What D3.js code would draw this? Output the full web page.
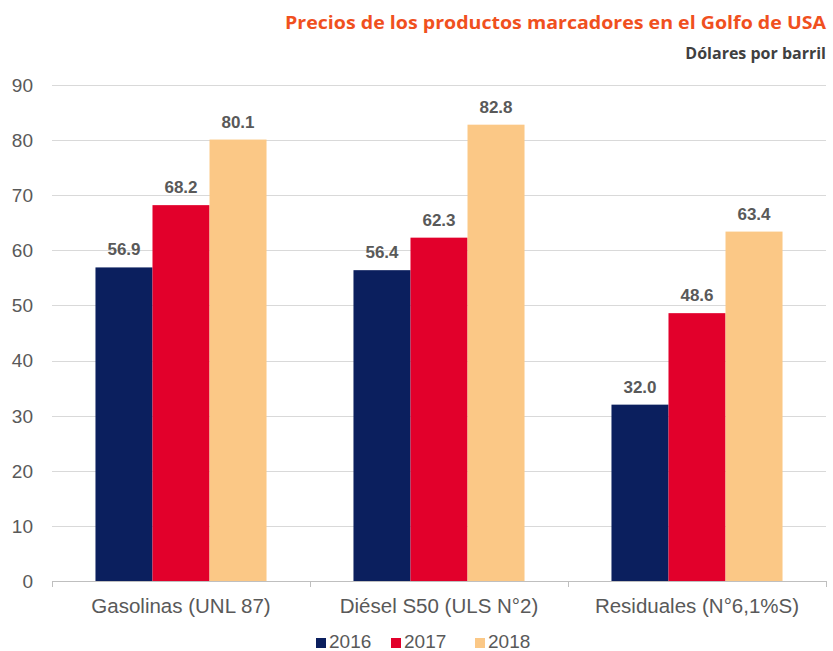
<!DOCTYPE html>
<html>
<head>
<meta charset="utf-8">
<script src="https://cdn.jsdelivr.net/npm/d3@7"></script>
<style>
  body { margin: 0; background: #fff; }
  svg text { font-family: "Liberation Sans", Arial, sans-serif; }
</style>
</head>
<body>
<div id="chart"></div>
<script>
// data
var categories = ['Gasolinas (UNL 87)', 'Diésel S50 (ULS N°2)', 'Residuales (N°6,1%S)'];
var years = ['2016', '2017', '2018'];
var values2016 = [56.9, 56.4, 32.0];
var values2017 = [68.2, 62.3, 48.6];
var values2018 = [80.1, 82.8, 63.4];
var yTicks = [0, 10, 20, 30, 40, 50, 60, 70, 80, 90];

var series = [values2016, values2017, values2018];
var colors = ['#0b1f5e', '#e2002b', '#fbc886'];

var width = 833, height = 651;
var margin = { top: 85, right: 7, bottom: 70, left: 52 };
var innerW = width - margin.left - margin.right,
  innerH = height - margin.top - margin.bottom;

var svg = d3.select('#chart').append('svg')
  .attr('width', width)
  .attr('height', height);

// titles
svg.append('text')
  .attr('x', 826).attr('y', 29)
  .attr('text-anchor', 'end')
  .style('font-family', '"Open Sans", sans-serif')
  .style('font-weight', 'bold')
  .style('font-size', '18px')
  .attr('fill', '#f0501e')
  .attr('textLength', 541)
  .attr('lengthAdjust', 'spacingAndGlyphs')
  .text('Precios de los productos marcadores en el Golfo de USA');

svg.append('text')
  .attr('x', 826).attr('y', 59)
  .attr('text-anchor', 'end')
  .style('font-family', '"Open Sans", sans-serif')
  .style('font-weight', 'bold')
  .style('font-size', '16px')
  .attr('fill', '#404040')
  .text('Dólares por barril');

var g = svg.append('g')
  .attr('transform', 'translate(' + margin.left + ',' + margin.top + ')');

var x0 = d3.scaleBand()
  .domain(categories)
  .range([0, innerW])
  .paddingInner(0.337)
  .paddingOuter(0.337 / 2);

var x1 = d3.scaleBand()
  .domain(years)
  .range([0, x0.bandwidth()]);

var y = d3.scaleLinear()
  .domain([0, 90])
  .range([innerH, 0]);

// gridlines
g.selectAll('.grid')
  .data(yTicks.slice(1))
  .enter().append('line')
  .attr('x1', 0).attr('x2', innerW)
  .attr('y1', function(d) { return Math.round(y(d)) + 0.5; })
  .attr('y2', function(d) { return Math.round(y(d)) + 0.5; })
  .attr('stroke', '#d9d9d9')
  .attr('stroke-width', 1);

// y tick labels
g.selectAll('.ylab')
  .data(yTicks)
  .enter().append('text')
  .attr('x', -19)
  .attr('y', function(d) { return y(d); })
  .attr('dy', '0.36em')
  .attr('text-anchor', 'end')
  .style('font-size', '19px')
  .attr('fill', '#595959')
  .text(function(d) { return d; });

// bars
var groups = g.selectAll('.cat')
  .data(categories)
  .enter().append('g')
  .attr('transform', function(d) { return 'translate(' + x0(d) + ',0)'; });

groups.each(function(cat, ci) {
  var sel = d3.select(this);
  years.forEach(function(yr, si) {
    var v = series[si][ci];
    sel.append('rect')
      .attr('x', x1(yr))
      .attr('y', y(v))
      .attr('width', x1.bandwidth())
      .attr('height', innerH - y(v))
      .attr('fill', colors[si]);
    sel.append('text')
      .attr('x', x1(yr) + x1.bandwidth() / 2)
      .attr('y', y(v) - 12)
      .attr('text-anchor', 'middle')
      .style('font-size', '17px')
      .style('font-weight', 'bold')
      .attr('fill', '#595959')
      .text(v.toFixed(1));
  });
});

// x axis line and ticks between categories
g.append('line')
  .attr('x1', 0).attr('x2', innerW)
  .attr('y1', innerH + 0.5).attr('y2', innerH + 0.5)
  .attr('stroke', '#bfbfbf');

var bounds = categories.map(function(c) { return x0(c) - x0.step() * x0.paddingInner() / 2; });
bounds.push(innerW);
g.selectAll('.xtick')
  .data(bounds)
  .enter().append('line')
  .attr('x1', function(d) { return Math.round(d) + 0.5; })
  .attr('x2', function(d) { return Math.round(d) + 0.5; })
  .attr('y1', innerH).attr('y2', innerH + 6)
  .attr('stroke', '#bfbfbf');

g.selectAll('.xlab')
  .data(categories)
  .enter().append('text')
  .attr('x', function(d) { return x0(d) + x0.bandwidth() / 2; })
  .attr('y', innerH + 32)
  .attr('text-anchor', 'middle')
  .style('font-size', '20.5px')
  .attr('fill', '#595959')
  .text(function(d) { return d; });

// legend
var legendX = [316, 391, 475];
var legend = svg.append('g')
  .attr('transform', 'translate(0,648)');

var item = legend.selectAll('.leg')
  .data(years)
  .enter().append('g')
  .attr('transform', function(d, i) { return 'translate(' + legendX[i] + ',0)'; });

item.append('rect')
  .attr('x', 0).attr('y', -10)
  .attr('width', 10).attr('height', 10)
  .attr('fill', function(d, i) { return colors[i]; });

item.append('text')
  .attr('x', 13)
  .attr('y', 0)
  .style('font-size', '19px')
  .attr('fill', '#595959')
  .text(function(d) { return d; });
</script>
</body>
</html>
